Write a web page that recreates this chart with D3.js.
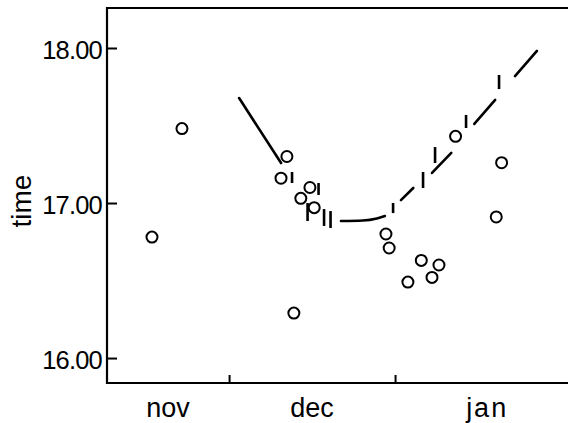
<!DOCTYPE html>
<html><head><meta charset="utf-8">
<script src="https://cdn.jsdelivr.net/npm/d3@7/dist/d3.min.js"></script>
<style>body{margin:0;background:#fff}svg{display:block}text{font-family:"Liberation Sans",Arial,sans-serif;fill:#000}</style>
</head><body><svg id="c" width="568" height="423"></svg>
<script>
// day numbers counted from 1 November (Dec 1 = 30, Jan 1 = 61)
const monthTicks = [30, 61];
const monthLabels = [{name:"nov", day:18.6},{name:"dec", day:45.5},{name:"jan", day:78.2}];
const yTicks = [16, 17, 18];
// observed times (circles)
const obsDay = [15.6, 21.2, 40.8, 39.7, 45.1, 43.4, 45.9, 42.1, 59.3, 59.9, 63.4, 65.9, 67.9, 69.2, 72.3, 80.9, 79.9];
const obsTime = [16.78, 17.48, 17.30, 17.16, 17.10, 17.03, 16.97, 16.29, 16.80, 16.71, 16.49, 16.63, 16.52, 16.60, 17.43, 17.26, 16.91];
// fitted curve, drawn in broken pieces
const curvePieces = [
  [[31.87,17.677],[39.71,17.258]],
  [[50.9,16.884],[55.0,16.887],[57.6,16.900],[59.1,16.916]],
  [[62.1,17.019],[64.4,17.097]],
  [[67.9,17.194],[71.5,17.323]],
  [[75.8,17.510],[79.7,17.665]],
  [[83.4,17.819],[87.5,17.981]]
];
// short vertical bars: day, low, high
const barDay  = [41.76, 46.71, 44.66, 47.74, 48.95, 60.63, 66.23, 68.47, 74.26, 80.42];
const barLow  = [17.129, 17.052, 16.884, 16.852, 16.839, 16.935, 17.097, 17.258, 17.484, 17.735];
const barHigh = [17.200, 17.129, 17.000, 16.961, 16.948, 17.000, 17.200, 17.361, 17.568, 17.826];

const svg = d3.select("#c");
const L = 107, R = 568, T = 8, B = 383;
const x = d3.scaleLinear().domain([7.2, 93.3]).range([L, R]);
const y = d3.scaleLinear().domain([15.839, 18.258]).range([B, T]);

// frame
svg.append("path").attr("d", `M${R},${T}H${L}V${B}H${R}`).attr("fill","none").attr("stroke","#000").attr("stroke-width",2.2);

// y axis ticks (inward)
const yAx = svg.append("g").attr("transform",`translate(${L},0)`)
  .call(d3.axisRight(y).tickValues(yTicks).tickSize(10).tickFormat(""));
yAx.select(".domain").remove();
yAx.selectAll("line").attr("stroke-width",2);
svg.selectAll(".ylab").data(yTicks).join("text")
  .attr("x", L-5).attr("y", d=>y(d)+11).attr("text-anchor","end")
  .attr("font-size",25.5).attr("letter-spacing",-0.8)
  .text(d=>d3.format(".2f")(d));

// x axis ticks (inward)
const xAx = svg.append("g").attr("transform",`translate(0,${B})`)
  .call(d3.axisTop(x).tickValues(monthTicks).tickSize(8).tickFormat(""));
xAx.select(".domain").remove();
xAx.selectAll("line").attr("stroke-width",2);
svg.selectAll(".xlab").data(monthLabels).join("text")
  .attr("x", d=>x(d.day)).attr("y", 417).attr("text-anchor","middle")
  .attr("font-size",27).attr("letter-spacing", d=>d.name==="jan"?2:0)
  .text(d=>d.name);

// axis title
svg.append("text").attr("transform","translate(31,201) rotate(-90)")
  .attr("text-anchor","middle").attr("font-size",28).text("time");

// curve pieces
const line = d3.line().x(d=>x(d[0])).y(d=>y(d[1])).curve(d3.curveMonotoneX);
svg.selectAll(".curve").data(curvePieces).join("path")
  .attr("d", line).attr("fill","none").attr("stroke","#000").attr("stroke-width",2.6).attr("stroke-linecap","round");

// bars
svg.selectAll(".bar").data(barDay).join("line")
  .attr("x1",d=>x(d)).attr("x2",d=>x(d))
  .attr("y1",(d,i)=>y(barLow[i])).attr("y2",(d,i)=>y(barHigh[i]))
  .attr("stroke","#000").attr("stroke-width",2.6);

// circles
svg.selectAll(".obs").data(obsDay).join("circle")
  .attr("cx",d=>x(d)).attr("cy",(d,i)=>y(obsTime[i])).attr("r",5.5)
  .attr("fill","none").attr("stroke","#000").attr("stroke-width",2);
</script></body></html>
